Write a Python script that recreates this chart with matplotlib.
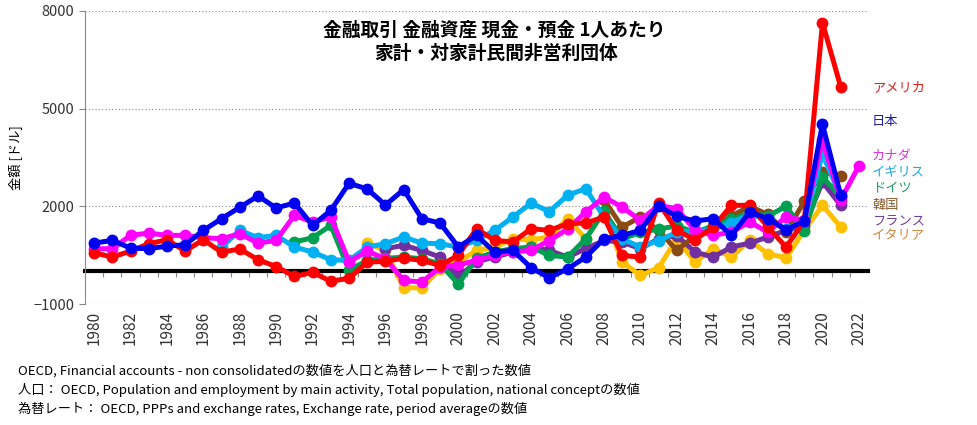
import numpy as np
import matplotlib
matplotlib.use("Agg")
import matplotlib.pyplot as plt

plt.rcParams['font.family'] = ['Noto Sans CJK JP', 'DejaVu Sans']

nan = np.nan
years = list(range(1980, 2023))

# 金額 [ドル], 1980-2022
usa = [574, 441, 626, 851, 974, 626, 974, 590, 690, 359, 150, -154, -30, -300, -210,
       287, 308, 410, 338, 185, 492, 1313, 954, 903, 1313, 1262, 1467, 1487, 1672, 492,
       441, 2113, 1262, 974, 1364, 2031, 2031, 1364, 749, 1550, 7640, 5671, nan]
japan = [871, 954, 717, 698, 778, 820, 1262, 1621, 1969, 2318, 1949, 2103, 1415, 1877, 2708,
         2533, 2041, 2513, 1621, 1487, 749, 1108, 595, 646, 113, -195, 82, 441, 1000, 1108,
         1262, 2010, 1692, 1549, 1621, 1108, 1826, 1621, 1282, 1549, 4523, 2338, nan]
canada = [698, 698, 1108, 1180, 1108, 1108, 1036, 1005, 1159, 871, 954, 1723, 1518, 1672, 300,
          620, 390, -277, -328, 133, 200, 340, 500, 600, 650, 950, 1300, 1826, 2280, 1980,
          1569, 2031, 1928, 1262, 1108, 1210, 1518, 1210, 1672, 1569, 4031, 2200, 3241]
uk = [nan, nan, nan, nan, nan, nan, nan, 749, 1262, 1036, 1108, 749, 595, 359, 338,
      749, 851, 1056, 871, 851, 749, 954, 1262, 1672, 2100, 1840, 2338, 2544, 1672, 1000,
      750, 950, 1200, 1250, 1300, 1500, 1750, 1600, 1300, 1550, 3600, 2300, nan]
germany = [nan] * 11 + [903, 1036, 1415, 40,
           338, 400, 441, 390, 236, -390, 400, 600, 700, 750, 492, 441, 1000, 1850, 1000,
           1200, 1300, 1400, 1200, 1400, 1600, 1800, 1700, 2000, 1250, 2900, 2300, nan]
korea = [nan] * 28 + [2205, 1364,
         1672, 1262, 646, 1100, 1400, 1700, 2000, 1750, 1200, 2150, 3050, 2930, nan]
france = [nan] * 16 + [700, 800, 646, 441, -174, 300, 441, 595, 749, 646, 441, 698, 954, 900,
          700, 1000, 1100, 595, 441, 749, 871, 1056, 1262, 1400, 2749, 2031, nan]
italy = [nan] * 15 + [871, 646, -503, -503, 82, 287, 646, 749, 1005, 974, 1056, 1621, 1005, 1826, 287,
         -123, 113, 1005, 287, 698, 441, 954, 544, 421, 1262, 2031, 1364, nan]

names = ['アメリカ', '日本', 'カナダ', 'イギリス', 'ドイツ', '韓国', 'フランス', 'イタリア']
line_colors = ['#FF0000', '#0000F0', '#FF00FF', '#00B0F0', '#00A050', '#8B4A14', '#7030A0', '#FFC000']
text_colors = ['#E02020', '#2020A8', '#E030E0', '#20A8E0', '#20A060', '#8B5A2B', '#7040A0', '#D08840']
label_y = [88, 121, 157, 173, 188, 205, 221, 236]

data = [usa, japan, canada, uk, germany, korea, france, italy]
draw_order = [7, 6, 5, 4, 3, 2, 0, 1]

fig = plt.figure(figsize=(9.77, 4.25), dpi=100)
ax = fig.add_axes([85 / 977, 1 - 304 / 425, (868 - 85) / 977, (304 - 11) / 425])

x = np.arange(len(years))
for i in draw_order:
    ax.plot(x, data[i], color=line_colors[i], lw=3.6, marker='o', ms=7.5,
            solid_capstyle='round', solid_joinstyle='round', zorder=3 + draw_order.index(i))

ax.set_xlim(-0.5, len(years) - 0.5)
ax.set_ylim(-1000, 8000)
ax.set_yticks([-1000, 2000, 5000, 8000])
ax.grid(axis='y', color='#888888', ls=(0, (1, 2)), lw=0.8)
ax.tick_params(axis='y', labelsize=10.5, labelcolor='#333333', length=4, width=0.8, color='#888888')

for s in ['top', 'right']:
    ax.spines[s].set_visible(False)
ax.spines['left'].set_color('#888888')
ax.spines['bottom'].set_position(('data', 0))
ax.spines['bottom'].set_linewidth(3)
ax.spines['bottom'].set_color('black')
ax.spines['bottom'].set_zorder(2)

# tick marks sit on the zero line between the years
ax.set_xticks(np.arange(0.5, len(years) - 0.5, 1))
ax.tick_params(axis='x', labelbottom=False, length=4, width=0.8, color='#888888')

sec = ax.secondary_xaxis('bottom')
sec.set_xticks(x[::2], labels=[str(y) for y in years[::2]], rotation=90)
sec.tick_params(length=0, labelsize=11, colors='#333333', pad=5)
sec.spines['bottom'].set_visible(False)

ax.set_ylabel('金額 [ドル]', fontsize=9.5, labelpad=8)

fig.text(494 / 977, 1 - 30 / 425, '金融取引 金融資産 現金・預金 1人あたり',
         ha='center', va='center', fontsize=13.5, fontweight='bold')
fig.text(496 / 977, 1 - 53 / 425, '家計・対家計民間非営利団体',
         ha='center', va='center', fontsize=13.5, fontweight='bold')

for name, c, yy in zip(names, text_colors, label_y):
    fig.text(872 / 977, 1 - yy / 425, name, color=c, fontsize=9.5, va='center', ha='left')

notes = ['OECD, Financial accounts - non consolidatedの数値を人口と為替レートで割った数値',
         '人口： OECD, Population and employment by main activity, Total population, national conceptの数値',
         '為替レート： OECD, PPPs and exchange rates, Exchange rate, period averageの数値']
for k, t in enumerate(notes):
    fig.text(18 / 977, 1 - (371 + k * 19) / 425, t, fontsize=9.5, va='center', ha='left')

fig.savefig('out.png', dpi=100)
